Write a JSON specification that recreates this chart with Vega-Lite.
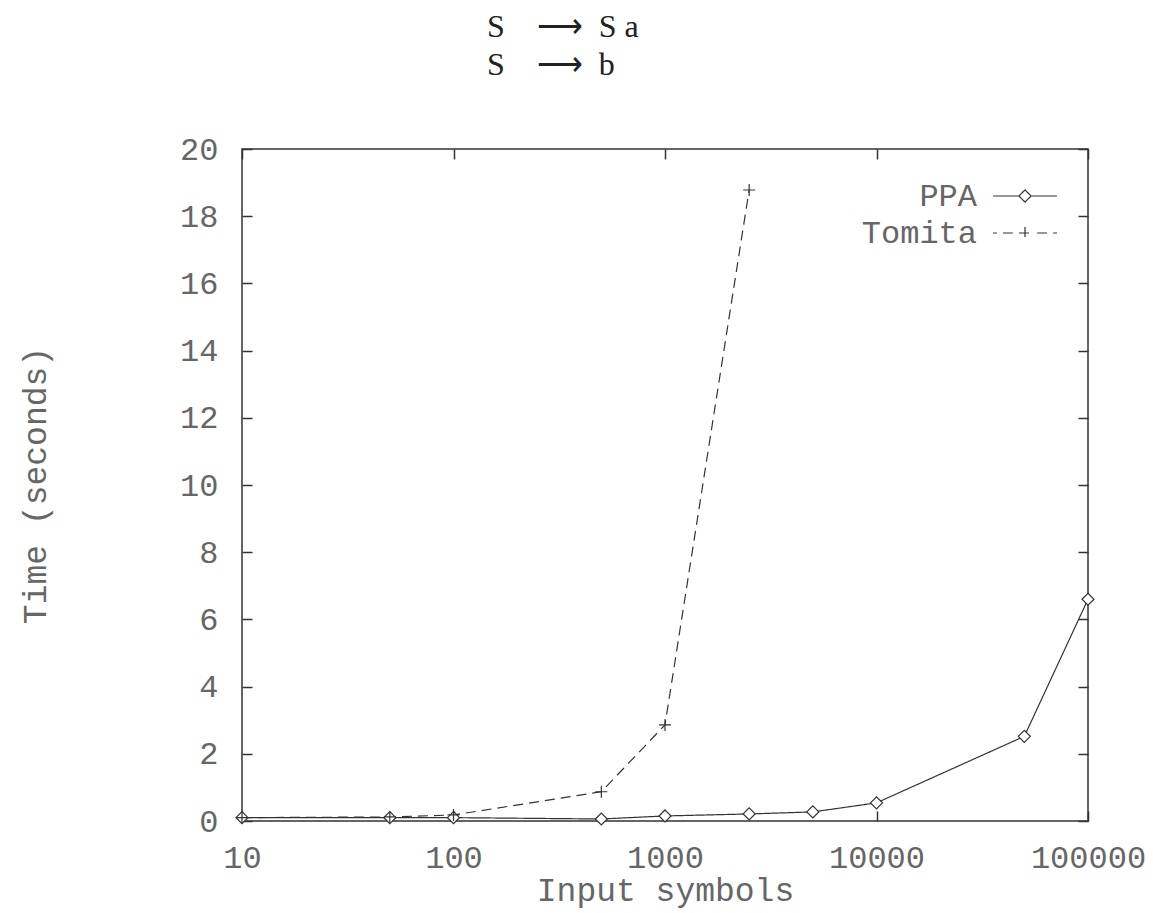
{
  "$schema": "https://vega.github.io/schema/vega-lite/v6.json",
  "width": 846,
  "height": 672,
  "autosize": {"type": "none"},
  "padding": {"left": 242, "top": 149, "right": 65, "bottom": 92},
  "background": "white",
  "title": {
    "text": ["S\u2003⟶\u2002S a", "S\u2003⟶\u2002b"],
    "anchor": "middle",
    "align": "left",
    "dx": -178,
    "offset": 51,
    "font": "Liberation Serif",
    "fontSize": 32,
    "fontWeight": "normal",
    "color": "#222",
    "lineHeight": 38
  },
  "config": {
    "view": {"stroke": "#333", "strokeWidth": 1.5},
    "axis": {
      "labelFont": "Liberation Mono",
      "labelFontSize": 32,
      "labelColor": "#666",
      "labelFlush": false,
      "titleFont": "Liberation Mono",
      "titleFontSize": 33,
      "titleColor": "#666",
      "titleFontWeight": "normal",
      "tickColor": "#333",
      "tickWidth": 1.5,
      "tickSize": -10,
      "domain": false,
      "grid": false
    },
    "legend": {
      "labelFont": "Liberation Mono",
      "labelFontSize": 32,
      "labelColor": "#666"
    }
  },
  "data": {
    "values": [
      {"n": 10, "t": 0.1, "s": "PPA"},
      {"n": 50, "t": 0.1, "s": "PPA"},
      {"n": 100, "t": 0.1, "s": "PPA"},
      {"n": 500, "t": 0.06, "s": "PPA"},
      {"n": 1000, "t": 0.15, "s": "PPA"},
      {"n": 2500, "t": 0.21, "s": "PPA"},
      {"n": 5000, "t": 0.27, "s": "PPA"},
      {"n": 10000, "t": 0.54, "s": "PPA"},
      {"n": 50000, "t": 2.52, "s": "PPA"},
      {"n": 100000, "t": 6.6, "s": "PPA"},
      {"n": 10, "t": 0.1, "s": "Tomita"},
      {"n": 50, "t": 0.12, "s": "Tomita"},
      {"n": 100, "t": 0.18, "s": "Tomita"},
      {"n": 500, "t": 0.87, "s": "Tomita"},
      {"n": 1000, "t": 2.86, "s": "Tomita"},
      {"n": 2500, "t": 18.78, "s": "Tomita"}
    ]
  },
  "layer": [
    {
      "mark": {"type": "line", "strokeWidth": 1.2, "color": "#333"},
      "encoding": {
        "x": {
          "field": "n", "type": "quantitative",
          "scale": {"type": "log", "domain": [10, 100000], "nice": false},
          "axis": {"values": [10, 100, 1000, 10000, 100000], "format": "d", "title": "Input symbols", "labelPadding": 31, "titleY": 69, "titleBaseline": "middle"}
        },
        "y": {
          "field": "t", "type": "quantitative",
          "scale": {"domain": [0, 20], "nice": false},
          "axis": {"values": [0, 2, 4, 6, 8, 10, 12, 14, 16, 18, 20], "title": "Time (seconds)", "labelPadding": 34, "titleX": -207, "titleY": 336, "titleBaseline": "middle"}
        },
        "strokeDash": {
          "field": "s", "type": "nominal",
          "scale": {"domain": ["PPA", "Tomita"], "range": [[1, 0], [10, 6]]},
          "legend": {
            "title": null,
            "orient": "none",
            "legendX": 766,
            "legendY": 30,
            "symbolType": "stroke",
            "symbolSize": 1024,
            "symbolStrokeColor": "#333",
            "symbolStrokeWidth": 1.2,
            "labelAlign": "right",
            "labelOffset": -65,
            "rowPadding": 4,
            "encode": {
              "symbols": {
                "update": {
                  "shape": {"signal": "datum.value === 'PPA' ? 'M-2,0H-0.38M0.38,0H2M-0.38,0L0,-0.38L0.38,0L0,0.38Z' : 'M-2,0H-1.76M-1.38,0H-0.76M-0.38,0H0.38M0,-0.38V0.38M0.76,0H1.38M1.76,0H2'"},
                  "strokeDash": {"value": [1, 0]},
                  "fill": {"value": "transparent"}
                }
              }
            }
          }
        }
      }
    },
    {
      "mark": {"type": "point", "filled": false, "size": 144, "strokeWidth": 1.2, "color": "#333", "fill": "white", "opacity": 1},
      "encoding": {
        "x": {"field": "n", "type": "quantitative", "axis": null},
        "y": {"field": "t", "type": "quantitative", "axis": null},
        "shape": {
          "field": "s", "type": "nominal",
          "scale": {"domain": ["PPA", "Tomita"], "range": ["diamond", "M-1,0H1M0,-1V1"]},
          "legend": null
        }
      }
    },
    {
      "mark": {"type": "point", "opacity": 0},
      "encoding": {
        "x": {"field": "n", "type": "quantitative", "axis": {"orient": "top", "values": [10, 100, 1000, 10000, 100000], "labels": false, "title": null}},
        "y": {"field": "t", "type": "quantitative", "axis": {"orient": "right", "values": [0, 2, 4, 6, 8, 10, 12, 14, 16, 18, 20], "labels": false, "title": null}}
      }
    }
  ],
  "resolve": {"axis": {"x": "independent", "y": "independent"}, "legend": {"shape": "independent"}, "scale": {"shape": "independent"}}
}
